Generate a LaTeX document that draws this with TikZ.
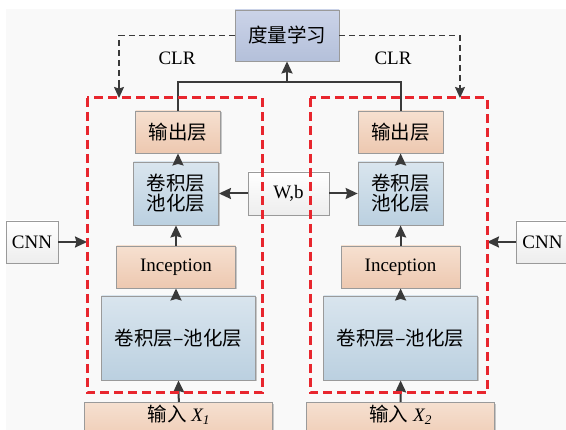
\documentclass[tikz,border=0pt]{standalone}
\usepackage{fontspec}
\setmainfont{Liberation Serif}
\newfontfamily\cjk{Noto Sans CJK SC}
\usetikzlibrary{arrows.meta,shadows}
\definecolor{bgc}{HTML}{F9F9F9}
\definecolor{edge}{HTML}{9A9A9A}
\definecolor{lnc}{HTML}{3A3A3A}
\definecolor{redd}{HTML}{E8262E}
\definecolor{pTop}{HTML}{CBD3E8}
\definecolor{pBot}{HTML}{B4C0DA}
\definecolor{bTop}{HTML}{D9E5EE}
\definecolor{bBot}{HTML}{BBD0E0}
\definecolor{oTop}{HTML}{F6E0D0}
\definecolor{oBot}{HTML}{EDC8B0}
\definecolor{gBot}{HTML}{EDEDED}
\tikzset{
  base/.style={draw=edge, line width=0.9pt, inner sep=0pt, align=center,
    font=\fontsize{19}{23}\selectfont,
    drop shadow={shadow xshift=1.3pt, shadow yshift=-1.3pt, fill=black, opacity=0.2}},
  purplebox/.style={base, top color=pTop, bottom color=pBot},
  bluebox/.style={base, top color=bTop, bottom color=bBot},
  orangebox/.style={base, top color=oTop, bottom color=oBot},
  greybox/.style={base, top color=white, bottom color=gBot},
  arr/.style={draw=lnc, line width=2pt, -{Stealth[length=12pt,width=11pt,inset=1.5pt]}},
  darr/.style={draw=lnc, line width=1.3pt, -{Stealth[length=11pt,width=10pt,inset=1.5pt]}},
  conn/.style={draw=lnc, line width=2pt},
  dconn/.style={draw=lnc, line width=1.3pt, dash pattern=on 6pt off 4pt},
  redbox/.style={draw=redd, line width=3pt, dash pattern=on 9pt off 5pt},
  lbl/.style={font=\fontsize{19}{23}\selectfont, inner sep=0pt},
}
\newcommand{\cj}[1]{{\cjk\fontsize{19.5}{23}\selectfont #1}}
\begin{document}
\begin{tikzpicture}[x=1pt,y=-1pt]
\useasboundingbox (0,0) rectangle (566,430);
\fill[bgc] (6,9) rectangle (566,430);
\begin{scope}
\clip (0,0) rectangle (566,430);
% nodes
\node[purplebox, minimum width=104pt, minimum height=51pt] (metric) at (287,35.5) {\cj{度量学习}};
\node[orangebox, minimum width=85pt, minimum height=42pt] (outL) at (178,132) {\cj{输出层}};
\node[orangebox, minimum width=85pt, minimum height=42pt] (outR) at (400.6,132) {\cj{输出层}};
\node[bluebox, minimum width=85pt, minimum height=63pt] (convL) at (176,193.5) {\cj{卷积层}\\[-3pt]\cj{池化层}};
\node[bluebox, minimum width=85pt, minimum height=63pt] (convR) at (400.6,193.5) {\cj{卷积层}\\[-3pt]\cj{池化层}};
\node[greybox, minimum width=81pt, minimum height=43pt] (wb) at (288.5,193.5) {W,b};
\node[greybox, minimum width=52pt, minimum height=42pt] (cnnL) at (32,242) {CNN};
\node[greybox, minimum width=52pt, minimum height=42pt, anchor=west] (cnnR) at (516,242) {CNN};
\node[orangebox, minimum width=119pt, minimum height=42pt] (incL) at (176,267) {Inception};
\node[orangebox, minimum width=119pt, minimum height=42pt] (incR) at (400.6,267) {Inception};
\node[bluebox, minimum width=154pt, minimum height=84pt] (bcL) at (178.5,338) {\cj{卷积层–池化层}};
\node[bluebox, minimum width=154pt, minimum height=84pt] (bcR) at (400.6,338) {\cj{卷积层–池化层}};
\node[orangebox, minimum width=188pt, minimum height=44pt, anchor=north] (inL) at (178.8,402) {};
\node[orangebox, minimum width=188pt, minimum height=44pt, anchor=north] (inR) at (400.7,402) {};
\node[lbl] (inLt) at (178.8,415) {\cj{输入}\ {\itshape X\textsubscript{1}}};
\node[lbl] (inRt) at (400.7,415) {\cj{输入}\ {\itshape X\textsubscript{2}}};
\node[lbl] (clrL) at (177,58) {CLR};
\node[lbl] (clrR) at (393,58) {CLR};
% coordinates
\coordinate (rLtop) at (119,98);
\coordinate (rRtop) at (460,98);
\coordinate (rLside) at (87,242);
\coordinate (rRside) at (487,242);
\coordinate (joinL) at (178,82);
\coordinate (joinR) at (400.6,82);
\coordinate (joinM) at (287,82);
% connectors
\draw[dconn] (metric.west) -| (119,90);
\draw[dconn] (metric.east) -| (460,90);
\draw[darr] (119,85) -- (rLtop);
\draw[darr] (460,85) -- (rRtop);
\draw[conn] (outL.north) -- (joinL) -- (joinR) -- (outR.north);
\draw[arr] (joinM) -- (metric.south);
\draw[arr] (convL.north -| outL.south) -- (outL.south);
\draw[arr] (convR.north) -- (outR.south);
\draw[arr] (incL.north) -- (convL.south);
\draw[arr] (incR.north) -- (convR.south);
\draw[arr] (bcL.north -| incL.south) -- (incL.south);
\draw[arr] (bcR.north) -- (incR.south);
\draw[arr] (inL.north) -- (bcL.south);
\draw[arr] (inR.north) -- (bcR.south);
\draw[arr] (wb.west) -- (convL.east);
\draw[arr] (wb.east) -- (convR.west);
\draw[arr] (cnnL.east) -- (rLside);
\draw[arr] (cnnR.west) -- (rRside);
% red dashed boxes
\draw[redbox] (87,98) rectangle (262,393);
\draw[redbox] (310,98) rectangle (487,393);
\end{scope}
\end{tikzpicture}
\end{document}
